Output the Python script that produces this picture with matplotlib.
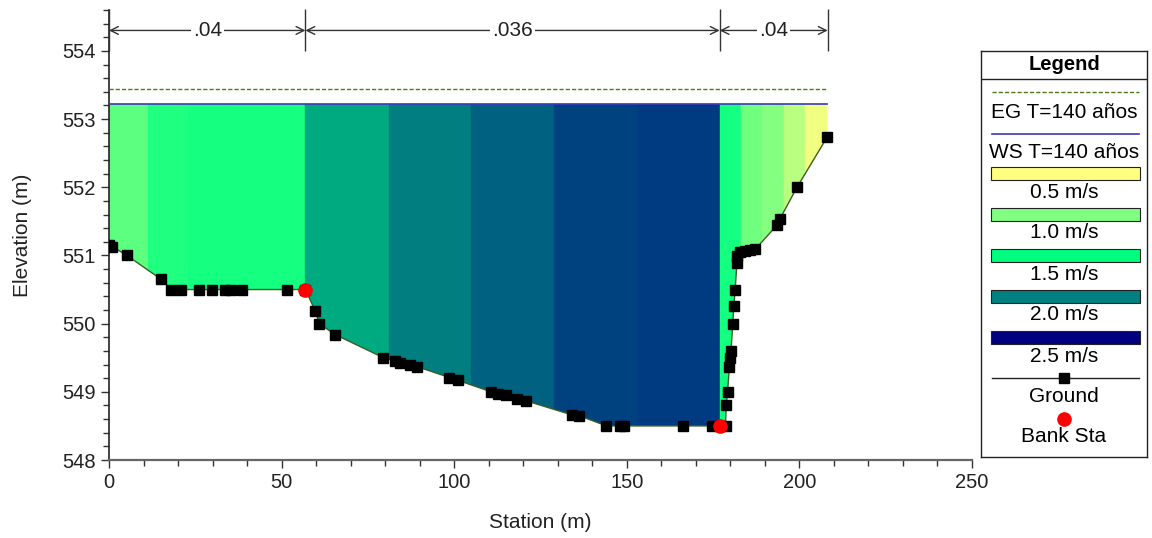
import matplotlib
matplotlib.use("Agg")
import numpy as np
import matplotlib.pyplot as plt
from matplotlib.patches import Rectangle, Polygon
from matplotlib.colors import LinearSegmentedColormap, Normalize
from matplotlib.ticker import MultipleLocator

plt.rcParams['font.family'] = ['Liberation Sans', 'DejaVu Sans']

# Cross-section ground survey (station, elevation)
station = [0.0, 1.0, 5.2, 15.1, 18.0, 20.9, 26.2, 29.9, 33.6, 35.4, 38.6, 51.7,
           56.9, 59.8, 60.9, 65.5, 79.5, 82.9, 84.2, 87.2, 89.2, 98.6, 101.0,
           110.7, 112.8, 115.0, 118.1, 120.7, 134.2, 136.2, 144.1, 147.9, 149.1,
           166.4, 174.6, 176.9, 178.6, 178.8, 179.2, 179.7, 180.0, 180.2, 180.7,
           181.0, 181.4, 181.9, 181.9, 182.9, 184.3, 185.8, 187.2, 193.6, 194.3,
           199.3, 208.1]
elevation = [551.15, 551.13, 551.0, 550.65, 550.5, 550.5, 550.5, 550.5, 550.5,
             550.5, 550.5, 550.5, 550.5, 550.18, 550.0, 549.84, 549.5, 549.45,
             549.42, 549.4, 549.37, 549.21, 549.17, 549.0, 548.97, 548.95, 548.9,
             548.87, 548.66, 548.65, 548.5, 548.5, 548.5, 548.5, 548.5, 548.5,
             548.5, 548.81, 549.0, 549.36, 549.5, 549.6, 550.0, 550.26, 550.5,
             550.89, 550.99, 551.05, 551.07, 551.08, 551.09, 551.45, 551.53,
             552.0, 552.74]

bank_sta = [56.9, 176.9]
bank_elev = [550.5, 548.5]

ws_elev = 553.22
eg_elev = 553.44
ws_label = 'WS T=140 años'
eg_label = 'EG T=140 años'

# Manning's n subsections
n_breaks = [0.0, 56.9, 176.9, 208.2]
n_values = ['.04', '.036', '.04']

# Velocity distribution slices (edges in m, mean velocity in m/s)
slice_edges = [0.0, 11.4, 22.8, 34.2, 45.6, 56.9, 81.0, 105.0, 129.0, 153.0,
               176.9, 183.0, 189.2, 195.5, 201.7, 208.2]
slice_vel = [1.14, 1.38, 1.42, 1.42, 1.42, 1.83, 2.0, 2.11, 2.24, 2.27,
             1.42, 1.06, 0.98, 0.78, 0.56]

legend_vel = [0.5, 1.0, 1.5, 2.0, 2.5]
legend_colors = ['#ffff80', '#80ff80', '#00ff80', '#008080', '#000080']

cmap = LinearSegmentedColormap.from_list(
    'vel', list(zip(np.linspace(0, 1, len(legend_colors)), legend_colors)))
norm = Normalize(vmin=legend_vel[0], vmax=legend_vel[-1])

W, H = 1152, 538
fig = plt.figure(figsize=(W / 100, H / 100), dpi=100)
ax = fig.add_axes([109 / W, (H - 460) / H, 863 / W, 450 / H])

ax.set_xlim(0, 250)
ax.set_ylim(548, 554.6)

# Water area polygon used to clip the velocity slices
water_xy = list(zip(station, elevation)) + [(station[-1], ws_elev), (station[0], ws_elev)]
water = Polygon(water_xy, closed=True, facecolor='none', edgecolor='none',
                transform=ax.transData)
ax.add_patch(water)

for i, v in enumerate(slice_vel):
    x0, x1 = slice_edges[i], slice_edges[i + 1]
    r = Rectangle((x0, 547.0), x1 - x0, ws_elev - 547.0,
                  facecolor=cmap(norm(v)), edgecolor=cmap(norm(v)),
                  linewidth=0.3, zorder=1)
    ax.add_patch(r)
    r.set_clip_path(water)

# Energy grade and water surface
ax.plot([station[0], station[-1]], [eg_elev, eg_elev], color='#4f7a1c',
        linestyle=(0, (3, 1.5)), linewidth=1.0, zorder=3)
ax.plot([station[0], station[-1]], [ws_elev, ws_elev], color='#3838b8',
        linewidth=1.2, zorder=3)

# Ground and bank stations
ax.plot(station, elevation, color='#3b5e22', linewidth=1.0, marker='s',
        markersize=6.5, markerfacecolor='black', markeredgecolor='black', zorder=4)
ax.plot(bank_sta, bank_elev, linestyle='none', marker='o', markersize=9.5,
        markerfacecolor='#ff0000', markeredgecolor='#ff0000', zorder=5)

# Manning's n annotations
y_arrow = 554.3
ax.vlines(n_breaks, 554.0, 554.62, color='#333333', linewidth=1.0, clip_on=False, zorder=6)
for i, label in enumerate(n_values):
    a, b = n_breaks[i], n_breaks[i + 1]
    ax.annotate('', xy=(a, y_arrow), xytext=(b, y_arrow),
                arrowprops=dict(arrowstyle='<->', color='#333333', lw=1.0,
                                shrinkA=0, shrinkB=0, mutation_scale=14),
                zorder=6)
    ax.text((a + b) / 2, y_arrow, label, ha='center', va='center', fontsize=15,
            color='#222222', zorder=7,
            bbox=dict(facecolor='white', edgecolor='none', pad=1.5))

# Axes styling
for side in ('top', 'right'):
    ax.spines[side].set_visible(False)
ax.spines['left'].set_color('#222222')
ax.spines['bottom'].set_color('#666666')
ax.spines['left'].set_linewidth(1.2)
ax.spines['bottom'].set_linewidth(1.6)
ax.xaxis.set_major_locator(MultipleLocator(50))
ax.xaxis.set_minor_locator(MultipleLocator(10))
ax.yaxis.set_major_locator(MultipleLocator(1))
ax.yaxis.set_minor_locator(MultipleLocator(0.2))
ax.tick_params(which='major', direction='out', length=6, width=1.0,
               color='#333333', labelsize=14.5, labelcolor='#222222')
ax.tick_params(which='minor', direction='out', length=4, width=1.0, color='#333333')
ax.set_xlabel('Station (m)', fontsize=15, color='#222222', labelpad=15)
ax.set_ylabel('Elevation (m)', fontsize=15, color='#222222', labelpad=22)

# Legend panel drawn in pixel coordinates
lg = fig.add_axes([981 / W, (H - 457) / H, (1147 - 981) / W, (457 - 51) / H])
lg.set_xlim(981, 1147)
lg.set_ylim(457, 51)
lg.set_xticks([])
lg.set_yticks([])
for s in lg.spines.values():
    s.set_color('#222222')
    s.set_linewidth(1.0)
cx = (981 + 1147) / 2
lg.text(cx, 65, 'Legend', ha='center', va='center', fontsize=14.5, fontweight='bold')
lg.plot([981, 1147], [79, 79], color='#222222', linewidth=1.0)
lg.plot([992, 1139], [92, 92], color='#4f7a1c', linestyle=(0, (3, 1.5)), linewidth=1.0)
lg.text(cx, 113, eg_label, ha='center', va='center', fontsize=15)
lg.plot([992, 1139], [134, 134], color='#3838b8', linewidth=1.2)
lg.text(cx, 152, ws_label, ha='center', va='center', fontsize=15)
box_tops = [167, 208, 249, 290, 331]
for v, c, top in zip(legend_vel, legend_colors, box_tops):
    lg.add_patch(Rectangle((991, top), 149, 13, facecolor=c, edgecolor='#222222',
                           linewidth=0.8))
    lg.text(cx, top + 25, f'{v:.1f} m/s', ha='center', va='center', fontsize=15)
lg.plot([992, 1139], [378, 378], color='#222222', linewidth=1.0)
lg.plot([cx], [378], marker='s', markersize=6.5, color='black')
lg.text(cx, 396, 'Ground', ha='center', va='center', fontsize=15)
lg.plot([cx], [419], marker='o', markersize=9.5, color='#ff0000', linestyle='none')
lg.text(cx, 437, 'Bank Sta', ha='center', va='center', fontsize=15)

fig.savefig('out.png', dpi=100)
